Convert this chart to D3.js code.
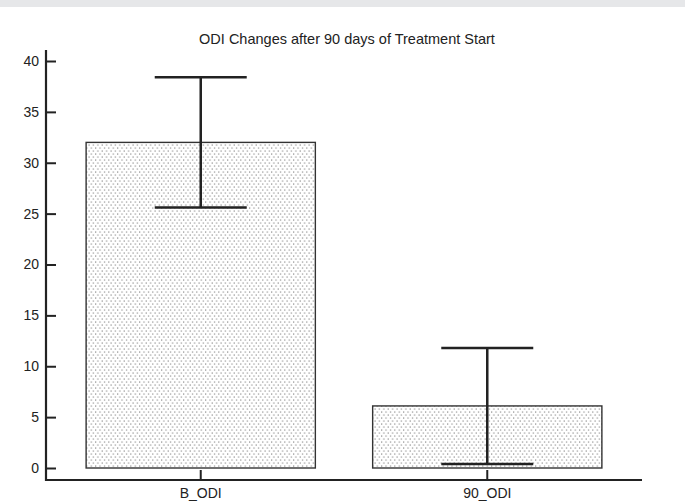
<!DOCTYPE html>
<html>
<head>
<meta charset="utf-8">
<script src="https://cdn.jsdelivr.net/npm/d3@7"></script>
<style>
  body { margin: 0; background: #fff; }
  text { font-family: "Liberation Sans", Arial, sans-serif; fill: #222; }
</style>
</head>
<body>
<div id="chart"></div>
<script>
"use strict";

var categories = ["B_ODI", "90_ODI"];
var means = [32.0, 6.1];
var sds = [6.4, 5.7];
var yTicks = [0, 5, 10, 15, 20, 25, 30, 35, 40];
var title = "ODI Changes after 90 days of Treatment Start";

var width = 685, height = 501;
var font = "Liberation Sans, Arial, sans-serif";

var svg = d3.select("#chart").append("svg")
  .attr("width", width)
  .attr("height", height);

// grey strip along the top
svg.append("rect")
  .attr("x", 0).attr("y", 0)
  .attr("width", width).attr("height", 7)
  .attr("fill", "#e6e7e9");

// dotted fill
var pat = svg.append("defs").append("pattern")
  .attr("id", "dots")
  .attr("patternUnits", "userSpaceOnUse")
  .attr("width", 4.4).attr("height", 6);
pat.append("rect").attr("x", 0.5).attr("y", 0.5).attr("width", 1.1).attr("height", 1.1).attr("fill", "#777");
pat.append("rect").attr("x", 2.7).attr("y", 3.5).attr("width", 1.1).attr("height", 1.1).attr("fill", "#777");

var x = d3.scaleBand()
  .domain(categories)
  .range([46, 642])
  .paddingInner(0.2)
  .paddingOuter(0.14);

var y = d3.scaleLinear()
  .domain([0, 40])
  .range([468, 61]);

// title
svg.append("text")
  .attr("x", 347).attr("y", 44)
  .attr("text-anchor", "middle")
  .attr("font-size", 14.5)
  .text(title);

// bars
svg.selectAll("rect.bar")
  .data(categories)
  .enter().append("rect")
  .attr("class", "bar")
  .attr("x", function(d) { return x(d); })
  .attr("width", x.bandwidth())
  .attr("y", function(d, i) { return y(means[i]); })
  .attr("height", function(d, i) { return y(0) - y(means[i]); })
  .attr("fill", "url(#dots)")
  .attr("stroke", "#333")
  .attr("stroke-width", 1.4);

// error bars
var capHalf = 46;
var err = svg.append("g")
  .attr("stroke", "#222")
  .attr("stroke-width", 2.5);

categories.forEach(function(c, i) {
  var cx = x(c) + x.bandwidth() / 2;
  var hi = y(means[i] + sds[i]), lo = y(means[i] - sds[i]);
  err.append("line").attr("x1", cx).attr("x2", cx).attr("y1", hi).attr("y2", lo);
  err.append("line").attr("x1", cx - capHalf).attr("x2", cx + capHalf).attr("y1", hi).attr("y2", hi);
  err.append("line").attr("x1", cx - capHalf).attr("x2", cx + capHalf).attr("y1", lo).attr("y2", lo);
});

// y axis
var yAxis = svg.append("g")
  .attr("transform", "translate(46,0)")
  .call(d3.axisRight(y).tickValues(yTicks).tickSize(10).tickFormat(d3.format("d")));
yAxis.select(".domain").remove();
yAxis.selectAll(".tick line").attr("stroke", "#222").attr("stroke-width", 2);
yAxis.selectAll(".tick text")
  .attr("x", -7)
  .attr("text-anchor", "end")
  .attr("font-size", 14)
  .attr("font-family", font)
  .attr("fill", "#222");

svg.append("line")
  .attr("x1", 46).attr("x2", 46)
  .attr("y1", 50).attr("y2", 481)
  .attr("stroke", "#222").attr("stroke-width", 2.2);

// x axis
var xAxis = svg.append("g")
  .attr("transform", "translate(0,480)")
  .call(d3.axisTop(x).tickSize(10));
xAxis.select(".domain").remove();
xAxis.selectAll(".tick line").attr("stroke", "#222").attr("stroke-width", 2);
xAxis.selectAll(".tick text")
  .attr("y", 18)
  .attr("dy", "0")
  .attr("font-size", 14)
  .attr("font-family", font)
  .attr("fill", "#222");

svg.append("line")
  .attr("x1", 45).attr("x2", 642)
  .attr("y1", 480).attr("y2", 480)
  .attr("stroke", "#222").attr("stroke-width", 2.2);
</script>
</body>
</html>
